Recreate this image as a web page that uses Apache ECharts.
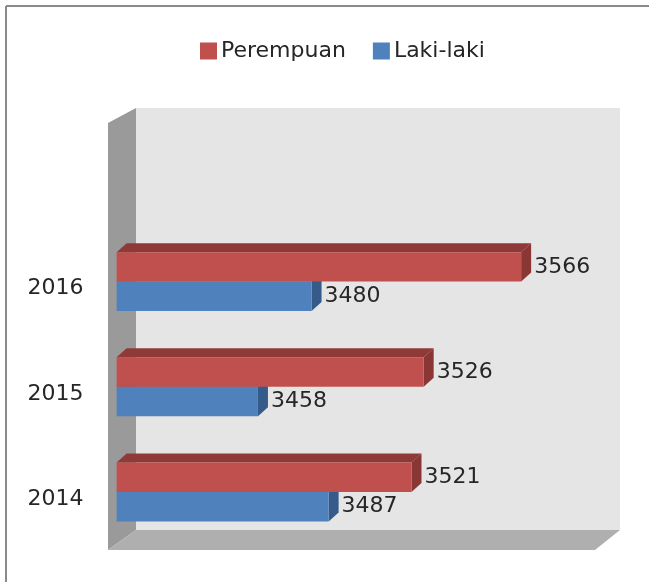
<!DOCTYPE html>
<html>
<head>
<meta charset="utf-8">
<script src="https://cdn.jsdelivr.net/npm/echarts@6/dist/echarts.min.js"></script>
<style>
  html, body { margin: 0; padding: 0; background: #fff; }
  #main { width: 649px; height: 582px; }
</style>
</head>
<body>
<div id="main"></div>
<script>
// data
var years = ['2014', '2015', '2016'];
var perempuan = [3521, 3526, 3566];
var lakiLaki = [3487, 3458, 3480];
var xMin = 3400, xMax = 3600;

var FONT = 'DejaVu Sans';
var DX = 10, DY = 9; // bar depth

// 3d-ish bar: sign -1 draws above the category centre, +1 below
function bar3d(sign, front, top, side) {
  return function (params, api) {
    var cat = api.value(1);
    var end = api.coord([api.value(0), cat]);
    var start = api.coord([xMin, cat]);
    var h = api.size([0, 1])[1] * 0.28;
    var y0 = sign < 0 ? end[1] - h : end[1];
    var x0 = start[0], x1 = end[0];
    return {
      type: 'group',
      children: [
        { type: 'polygon', shape: { points: [[x0, y0], [x1, y0], [x1 + DX, y0 - DY], [x0 + DX, y0 - DY]] },
          style: { fill: top } },
        { type: 'polygon', shape: { points: [[x1, y0], [x1 + DX, y0 - DY], [x1 + DX, y0 + h - DY], [x1, y0 + h]] },
          style: { fill: side } },
        { type: 'rect', shape: { x: x0, y: y0, width: x1 - x0, height: h },
          style: { fill: front } },
        { type: 'text', x: x1 + DX + 3, y: y0 + h / 2,
          style: { text: String(api.value(0)), fill: '#262626', font: '22px "' + FONT + '"', verticalAlign: 'middle', align: 'left' } }
      ]
    };
  };
}

var chart = echarts.init(document.getElementById('main'));

var option = {
  backgroundColor: '#fff',
  animation: false,
  graphic: [
    // outer frame (top + left)
    { type: 'line', shape: { x1: 6, y1: 6, x2: 649, y2: 6 }, style: { stroke: '#8a8a8a', lineWidth: 2 }, z: -10 },
    { type: 'line', shape: { x1: 6, y1: 6, x2: 6, y2: 582 }, style: { stroke: '#8a8a8a', lineWidth: 2 }, z: -10 },
    // back wall
    { type: 'rect', shape: { x: 136, y: 108, width: 484, height: 422 }, style: { fill: '#e5e5e5' }, z: -10 },
    // left wall
    { type: 'polygon', shape: { points: [[108, 123], [136, 108], [136, 530], [108, 550]] }, style: { fill: '#9a9a9a' }, z: -10 },
    // floor
    { type: 'polygon', shape: { points: [[108, 550], [136, 530], [620, 530], [595, 550]] }, style: { fill: '#afafaf' }, z: -10 }
  ],
  legend: {
    data: ['Perempuan', 'Laki-laki'],
    left: 195,
    top: 35,
    icon: 'rect',
    itemWidth: 17,
    itemHeight: 17,
    itemGap: 27,
    textStyle: { fontFamily: FONT, fontSize: 22, color: '#262626', padding: [0, 0, 0, -1] }
  },
  grid: { left: 116.6, right: 45, top: 229, bottom: 37.4, containLabel: false },
  xAxis: { type: 'value', min: xMin, max: xMax, show: false },
  yAxis: {
    type: 'category',
    data: years,
    axisLine: { show: false },
    axisTick: { show: false },
    splitLine: { show: false },
    axisLabel: {
      margin: 33,
      formatter: '{y|{value}}',
      rich: { y: { fontFamily: FONT, fontSize: 22, color: '#262626', padding: [14, 0, 0, 0] } }
    }
  },
  series: [
    {
      name: 'Laki-laki',
      type: 'custom',
      z: 2,
      itemStyle: { color: '#4F81BD' },
      encode: { x: 0, y: 1 },
      data: lakiLaki.map(function (v, i) { return [v, i]; }),
      renderItem: bar3d(1, '#4F81BD', '#3A659A', '#345B89')
    },
    {
      name: 'Perempuan',
      type: 'custom',
      z: 3,
      itemStyle: { color: '#C0504D' },
      encode: { x: 0, y: 1 },
      data: perempuan.map(function (v, i) { return [v, i]; }),
      renderItem: bar3d(-1, '#C0504D', '#8F3A38', '#8A3634')
    }
  ]
};

chart.setOption(option);
</script>
</body>
</html>
